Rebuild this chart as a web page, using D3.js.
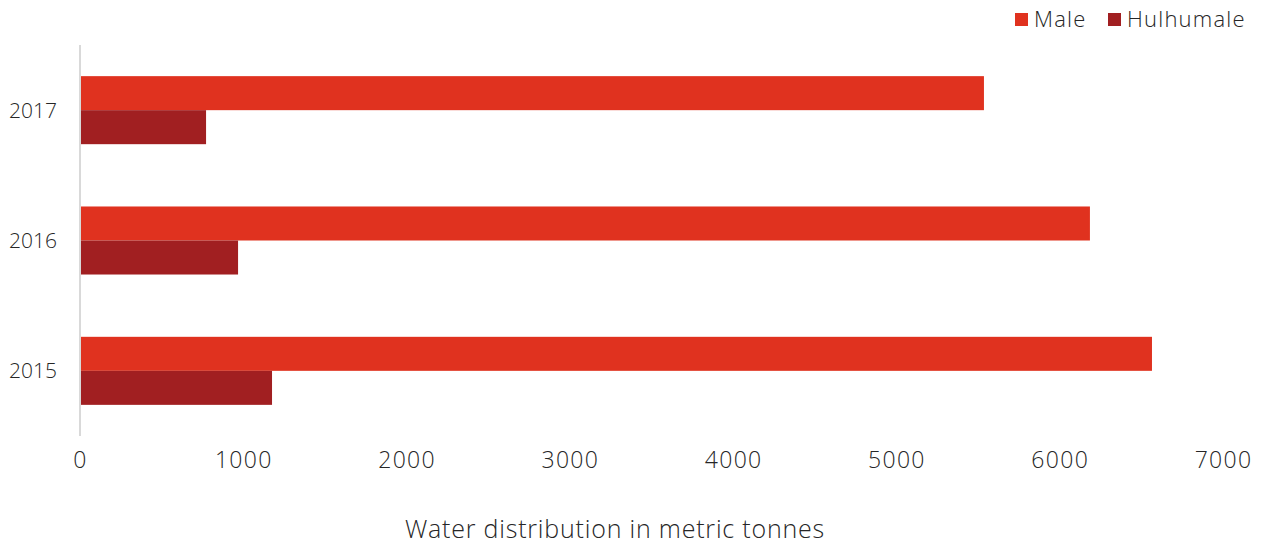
<!DOCTYPE html>
<html><head><meta charset="utf-8">
<script src="https://cdn.jsdelivr.net/npm/d3@7"></script>
<style>
body{margin:0;background:#fff;}
text{font-family:"Open Sans","Lato",sans-serif;font-weight:300;fill:#262626;}
</style></head>
<body><svg id="c" width="1264" height="545"></svg>
<script>
const years = ["2017","2016","2015"];
const seriesNames = ["Male","Hulhumale"];
const maleValues = [5536, 6185, 6565];
const hulhumaleValues = [772, 968, 1176];
const xTicks = [0,1000,2000,3000,4000,5000,6000,7000];
const colors = ["#E0321F","#A11F21"];
const axisTitle = "Water distribution in metric tonnes";

const svg = d3.select("#c");
const x = d3.scaleLinear().domain([0,7000]).range([80,1223]);
const y = d3.scaleBand().domain(years).range([45,436]).paddingInner(0.478).paddingOuter(0.239);
const sub = d3.scaleBand().domain(seriesNames).range([0,y.bandwidth()]);
const data = years.map((yr,i)=>({year:yr, vals:[maleValues[i], hulhumaleValues[i]]}));

const g = svg.selectAll("g.grp").data(data).join("g").attr("transform",d=>`translate(0,${y(d.year)})`);
g.selectAll("rect").data(d=>d.vals.map((v,j)=>({v,j}))).join("rect")
  .attr("x",x(0)+1).attr("y",d=>sub(seriesNames[d.j]))
  .attr("width",d=>x(d.v)-x(0)-1).attr("height",sub.bandwidth())
  .attr("fill",d=>colors[d.j]);

svg.append("line").attr("x1",80).attr("x2",80).attr("y1",45).attr("y2",436).attr("stroke","#d9d9d9").attr("stroke-width",2);

svg.selectAll("text.yl").data(years).join("text").attr("class","yl")
  .attr("x",57).attr("y",d=>y(d)+y.bandwidth()/2).attr("dy","0.35em")
  .attr("text-anchor","end").style("font-size","21px").text(d=>d);

const xa = svg.append("g").attr("transform","translate(0,436)").call(d3.axisBottom(x).tickValues(xTicks).tickSize(0).tickPadding(16).tickFormat(d3.format("d")));
xa.select(".domain").remove();
xa.selectAll("text").style("font-size","23px").style("letter-spacing","1.3px").style("font-family",null).attr("fill",null);

svg.append("text").attr("x",615).attr("y",538).attr("text-anchor","middle").style("font-size","25px").style("letter-spacing","0.8px").text(axisTitle);

const legX = [1015,1108];
const lg = svg.selectAll("g.leg").data(seriesNames).join("g").attr("transform",(d,i)=>`translate(${legX[i]},13)`);
lg.append("rect").attr("width",13).attr("height",13).attr("fill",(d,i)=>colors[i]);
lg.append("text").attr("x",19).attr("y",6.5).attr("dy","0.35em").style("font-size","22px").style("letter-spacing","1.2px").text(d=>d);
</script></body></html>
